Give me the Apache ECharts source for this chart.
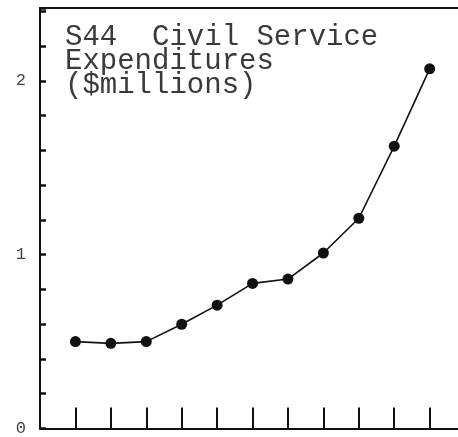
<!DOCTYPE html>
<html>
<head>
<meta charset="utf-8">
<style>
  html, body { margin: 0; padding: 0; background: #ffffff; }
  #chart { width: 458px; height: 437px; }
</style>
<script src="https://cdn.jsdelivr.net/npm/echarts@6/dist/echarts.min.js"></script>
</head>
<body>
<div id="chart"></div>
<script>
// Data
var xPositions = [1, 2, 3, 4, 5, 6, 7, 8, 9, 10, 11];
var expenditures = [0.50, 0.49, 0.50, 0.60, 0.71, 0.835, 0.86, 1.01, 1.21, 1.625, 2.07];
var xTickValues = [1, 2, 3, 4, 5, 6, 7, 8, 9, 10, 11];
var yLabelValues = [0, 1, 2];
var titleLines = ['S44  Civil Service', 'Expenditures', '($millions)'];

var seriesData = xPositions.map(function (x, i) { return [x, expenditures[i]]; });

var chart = echarts.init(document.getElementById('chart'), null, { renderer: 'canvas' });
chart.setOption({
  backgroundColor: '#ffffff',
  animation: false,
  title: {
    text: titleLines.join('\n'),
    left: 65,
    top: 25,
    padding: 0,
    textStyle: {
      fontFamily: '"Liberation Mono", "DejaVu Sans Mono", monospace',
      fontSize: 29,
      fontWeight: 'normal',
      lineHeight: 24,
      color: '#3a3a3a'
    }
  },
  grid: { left: 40, right: 0, top: 8, bottom: 4, containLabel: false },
  xAxis: [{
    type: 'value',
    min: 0,
    max: 11.8,
    interval: 1,
    position: 'bottom',
    splitLine: { show: false },
    axisLine: { show: true, onZero: false, lineStyle: { color: '#111', width: 2 } },
    axisTick: { show: true, inside: true, length: 21, customValues: xTickValues, lineStyle: { color: '#111', width: 2 } },
    axisLabel: { show: false }
  }, {
    type: 'value',
    min: 0,
    max: 11.8,
    position: 'top',
    splitLine: { show: false },
    axisLine: { show: true, onZero: false, lineStyle: { color: '#111', width: 2 } },
    axisTick: { show: false },
    axisLabel: { show: false }
  }],
  yAxis: {
    type: 'value',
    min: 0,
    max: 2.42,
    interval: 0.2,
    splitLine: { show: false },
    axisLine: { show: true, onZero: false, lineStyle: { color: '#111', width: 2 } },
    axisTick: { show: true, inside: true, length: 6, lineStyle: { color: '#111', width: 2.5 } },
    axisLabel: {
      show: true,
      margin: 14,
      fontFamily: '"Liberation Mono", "DejaVu Sans Mono", monospace',
      fontSize: 17,
      color: '#444',
      formatter: function (v) {
        for (var i = 0; i < yLabelValues.length; i++) {
          if (Math.abs(v - yLabelValues[i]) < 1e-6) return String(yLabelValues[i]);
        }
        return '';
      }
    }
  },
  series: [{
    type: 'line',
    xAxisIndex: 0,
    data: seriesData,
    symbol: 'circle',
    symbolSize: 11,
    showAllSymbol: true,
    lineStyle: { color: '#111', width: 1.6 },
    itemStyle: { color: '#111' }
  }]
});
</script>
</body>
</html>
